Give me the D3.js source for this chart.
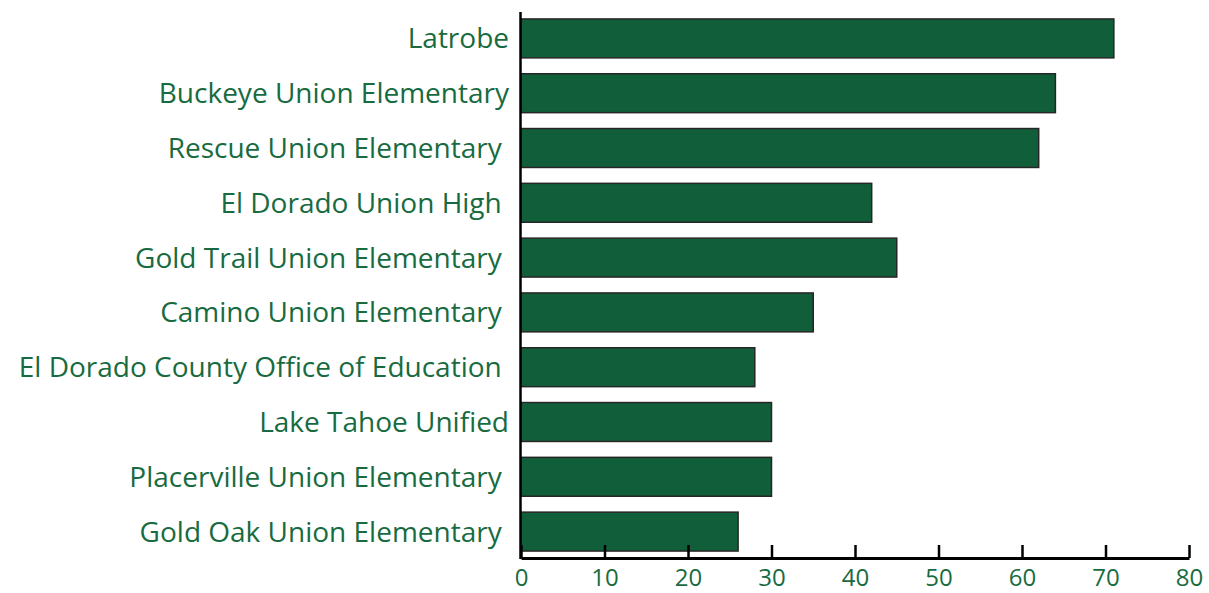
<!DOCTYPE html>
<html>
<head>
<meta charset="utf-8">
<script src="https://cdn.jsdelivr.net/npm/d3@7"></script>
<style>
  html, body { margin: 0; padding: 0; background: #ffffff; }
  svg { display: block; }
  text { white-space: pre; }
</style>
</head>
<body>
<svg id="chart" width="1209" height="593"></svg>
<script>
// Data (category labels exactly as in the source, some with trailing spaces)
const categories = [
  "Latrobe",
  "Buckeye Union Elementary",
  "Rescue Union Elementary ",
  "El Dorado Union High ",
  "Gold Trail Union Elementary ",
  "Camino Union Elementary ",
  "El Dorado County Office of Education ",
  "Lake Tahoe Unified",
  "Placerville Union Elementary ",
  "Gold Oak Union Elementary "
];
const values = [71, 64, 62, 42, 45, 35, 28, 30, 30, 26];
const xTicks = [0, 10, 20, 30, 40, 50, 60, 70, 80];

(function () {
const plotLeft = 521, plotRight = 1189, plotTop = 11, plotBottom = 559;
const green = "#115f3a";
const textGreen = "#186b40";
const font = "'Open Sans', 'Noto Sans', sans-serif";

const svg = d3.select("#chart");

const x = d3.scaleLinear().domain([0, 80]).range([plotLeft, plotRight]);
const y = d3.scaleBand().domain(categories).range([plotTop, plotBottom])
  .paddingInner(0.29).paddingOuter(0.145);

// bars
svg.append("g").selectAll("rect")
  .data(categories)
  .join("rect")
  .attr("x", x(0))
  .attr("y", d => y(d))
  .attr("width", (d, i) => x(values[i]) - x(0))
  .attr("height", y.bandwidth())
  .attr("fill", green)
  .attr("stroke", "#262626")
  .attr("stroke-width", 1.5);

// category labels
svg.append("g").selectAll("text")
  .data(categories)
  .join("text")
  .attr("x", 509)
  .attr("y", d => y(d) + y.bandwidth() / 2)
  .attr("dy", "0.36em")
  .attr("text-anchor", "end")
  .attr("xml:space", "preserve")
  .attr("fill", textGreen)
  .style("font-family", font)
  .style("font-size", "28px")
  .text(d => d);

// y axis line
svg.append("line")
  .attr("x1", plotLeft - 0.5).attr("x2", plotLeft - 0.5)
  .attr("y1", 12).attr("y2", 559)
  .attr("stroke", "#000").attr("stroke-width", 2.5);

// x axis
const xAxis = d3.axisBottom(x).tickValues(xTicks).tickFormat(d3.format("d"))
  .tickSizeInner(-13).tickSizeOuter(0).tickPadding(11);
const gx = svg.append("g").attr("transform", "translate(0,558)").call(xAxis);
gx.select(".domain").attr("stroke", "#000").attr("stroke-width", 3);
gx.selectAll(".tick line").attr("stroke", "#000").attr("stroke-width", 2.5);
gx.selectAll(".tick text")
  .attr("fill", textGreen)
  .style("font-family", font)
  .style("font-size", "24px");
})();
</script>
</body>
</html>
